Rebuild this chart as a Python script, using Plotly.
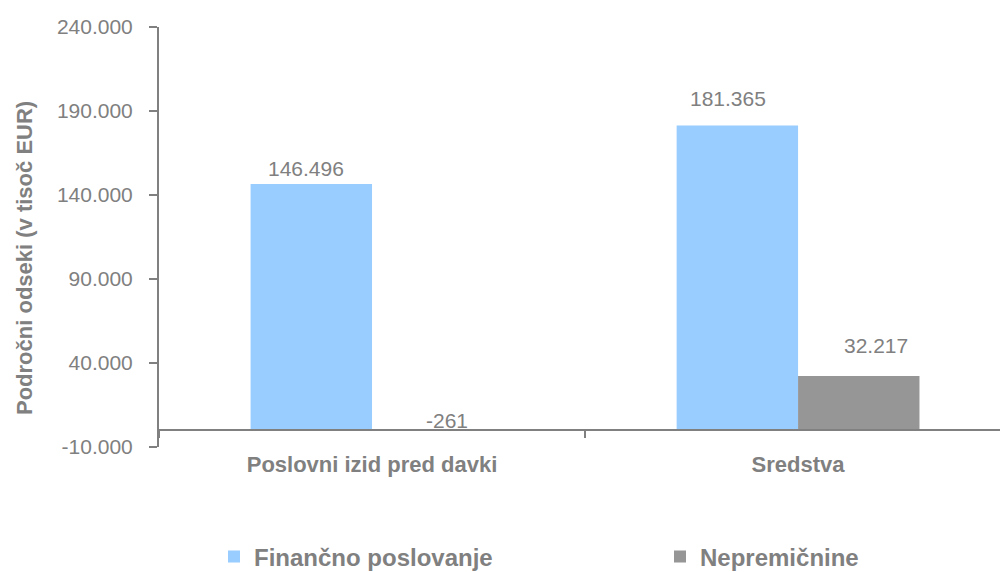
import plotly.graph_objects as go

# ---- data ----
categories = ["Poslovni izid pred davki", "Sredstva"]
series_names = ["Finančno poslovanje", "Nepremičnine"]
financno = [146496, 181365]
nepremicnine = [-261, 32217]
y_tick_vals = [-10000, 40000, 90000, 140000, 190000, 240000]
y_tick_text = ["-10.000", "40.000", "90.000", "140.000", "190.000", "240.000"]
y_title = "Področni odseki (v tisoč EUR)"

# ---- style ----
BLUE = "#99CCFF"
GREY_BAR = "#969696"
TXT = "#808080"
AXIS = "#808080"
SANS = "Liberation Sans, Arial, sans-serif"
BARGAP = 0.43
# pixel shifts of the data labels (series, category) -> (xshift, yshift)
label_shift = [[(-5, 16), (-9, 27)], [(14, 10), (17, 31)]]


def fmt(v):
    return f"{v:,}".replace(",", ".")


fig = go.Figure()
fig.add_trace(go.Bar(x=categories, y=financno, name=series_names[0],
                     legendwidth=401,
                     marker=dict(color=BLUE, line=dict(width=0))))
fig.add_trace(go.Bar(x=categories, y=nepremicnine, name=series_names[1],
                     marker=dict(color=GREY_BAR, line=dict(width=0))))

bar_w = (1 - BARGAP) / 2
annotations = []
for s, vals in enumerate([financno, nepremicnine]):
    for i, v in enumerate(vals):
        xs, ys = label_shift[s][i]
        annotations.append(dict(
            x=i + (s - 0.5) * bar_w, y=max(v, 0), xref="x", yref="y",
            text=fmt(v), showarrow=False, xanchor="center", yanchor="middle",
            xshift=xs, yshift=ys,
            font=dict(family=SANS, size=21, color=TXT)))

annotations.append(dict(
    x=(24 - 159) / 841, y=(447 - 258) / 420, xref="paper", yref="paper",
    text=y_title, textangle=-90, showarrow=False,
    xanchor="center", yanchor="middle",
    font=dict(family=SANS, size=22, color=TXT, weight="bold")))

fig.update_layout(
    width=1000, height=572,
    margin=dict(l=159, r=0, t=27, b=125),
    paper_bgcolor="white", plot_bgcolor="white",
    barmode="group", bargap=BARGAP, bargroupgap=0,
    showlegend=True,
    legend=dict(orientation="h", xref="container", yref="container",
                x=0.214, y=1 - 557 / 572, xanchor="left", yanchor="middle",
                font=dict(family=SANS, size=24, color=TXT, weight="bold"),
                bgcolor="rgba(0,0,0,0)"),
    annotations=annotations,
    xaxis=dict(type="category", range=[-0.5, 1.474],
               anchor="free", position=(447 - 430.2) / 420,
               showline=True, linecolor=AXIS, linewidth=2,
               ticks="outside", tickson="boundaries", ticklen=7, tickwidth=1.5,
               tickcolor=AXIS, showgrid=False, zeroline=False,
               ticklabelstandoff=14,
               tickfont=dict(family=SANS, size=22, color=TXT, weight="bold")),
    yaxis=dict(range=[-10000, 240000], tickvals=y_tick_vals, ticktext=y_tick_text,
               showline=True, linecolor=AXIS, linewidth=2,
               ticks="outside", ticklen=8, tickwidth=2, tickcolor=AXIS,
               showgrid=False, zeroline=False, ticklabelstandoff=12,
               tickfont=dict(family=SANS, size=21, color=TXT)),
)

fig.write_html("out.html",
               config={"displayModeBar": False},
               post_script="document.body.style.margin='0';"
                           "document.body.style.overflow='hidden';")
